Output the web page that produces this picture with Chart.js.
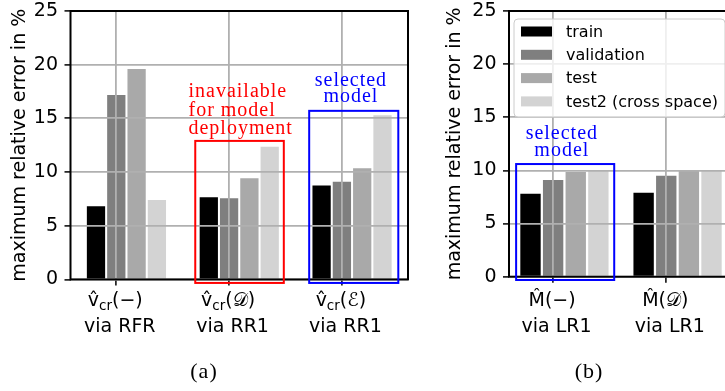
<!DOCTYPE html>
<html>
<head>
<meta charset="utf-8">
<script src="https://cdn.jsdelivr.net/npm/chart.js@4.4.1/dist/chart.umd.min.js"></script>
<style>
  html, body { margin: 0; padding: 0; background: #fff; overflow: hidden; width: 725px; height: 391px; position: relative; }
  canvas { position: absolute; top: 0; }
  #chartA { left: 0; }
  #chartB { left: 420px; }
</style>
</head>
<body>
<canvas id="chartA" width="420" height="391"></canvas>
<canvas id="chartB" width="325" height="391"></canvas>
<script>
// series shared by both panels
const seriesNames = ['train', 'validation', 'test', 'test2 (cross space)']
const seriesColors = ['#000000', '#7f7f7f', '#a9a9a9', '#d3d3d3']
const yTicks = [0, 5, 10, 15, 20, 25]

// panel (a)
const catsA = ['v\u0302_{cr}(\u2212)', 'v\u0302_{cr}(\u{1D49F})', 'v\u0302_{cr}(\u2130)']
const viaA = ['via RFR', 'via RR1', 'via RR1']
const trainA = [6.82, 7.65, 8.74]
const validationA = [17.18, 7.55, 9.1]
const testA = [19.6, 9.42, 10.35]
const test2A = [7.4, 12.36, 15.3]

// panel (b)
const catsB = ['M\u0302(\u2212)', 'M\u0302(\u{1D49F})']
const viaB = ['via LR1', 'via LR1']
const trainB = [7.8, 7.9]
const validationB = [9.1, 9.5]
const testB = [9.85, 10.0]
const test2B = [9.95, 10.0]

const gridColor = '#b0b0b0'
const sansFont = 'DejaVu Sans'
const serifFont = '"Liberation Serif", "DejaVu Serif", serif'

// an empty first slot so the category tick sits on the validation bar, like the original
function makeDatasets(groups) {
  const sets = [{
    label: '',
    data: groups[0].map((_, i) => ({ x: i, y: null })),
    backgroundColor: 'rgba(0,0,0,0)'
  }]
  groups.forEach((vals, j) => {
    sets.push({
      label: seriesNames[j],
      data: vals.map((v, i) => ({ x: i, y: v })),
      backgroundColor: seriesColors[j]
    })
  })
  return sets
}

// 'v̂_{cr}(−)' -> parts with subscript flags
function parseLabel(s) {
  const out = []
  const re = /_\{([^}]*)\}/g
  let last = 0
  let m
  while ((m = re.exec(s))) {
    if (m.index > last) out.push({ t: s.slice(last, m.index), sub: false })
    out.push({ t: m[1], sub: true })
    last = re.lastIndex
  }
  if (last < s.length) out.push({ t: s.slice(last), sub: false })
  return out
}

function drawRich(ctx, s, cx, baseline) {
  const parts = parseLabel(s)
  const big = '19px "' + sansFont + '"'
  const small = '13.5px "' + sansFont + '"'
  let total = 0
  parts.forEach(p => {
    ctx.font = p.sub ? small : big
    p.w = ctx.measureText(p.t).width
    total += p.w
  })
  let x = cx - total / 2
  ctx.textAlign = 'left'
  parts.forEach(p => {
    ctx.font = p.sub ? small : big
    ctx.fillText(p.t, x, p.sub ? baseline + 4 : baseline)
    x += p.w
  })
}

function extrasPlugin(cfg) {
  return {
    id: 'extras',
    afterDraw(chart) {
      const { ctx, chartArea: a, scales: { x, y } } = chart
      ctx.save()

      // full frame
      ctx.strokeStyle = '#000'
      ctx.lineWidth = 2
      ctx.strokeRect(a.left, a.top, a.right - a.left, a.bottom - a.top)

      // category labels (two lines, with subscript)
      ctx.fillStyle = '#000'
      ctx.textBaseline = 'alphabetic'
      cfg.cats.forEach((c, i) => {
        const px = x.getPixelForValue(i)
        drawRich(ctx, c, px - 1, cfg.labelY)
        ctx.font = '19px "' + sansFont + '"'
        ctx.textAlign = 'center'
        ctx.fillText(cfg.via[i], px + 3.5, cfg.labelY + 26)
      })

      // highlight boxes
      ctx.lineWidth = 2
      cfg.boxes.forEach(b => {
        const l = x.getPixelForValue(b.x0)
        const r = x.getPixelForValue(b.x1)
        const t = y.getPixelForValue(b.y1)
        const bt = y.getPixelForValue(b.y0)
        ctx.strokeStyle = b.color
        ctx.strokeRect(l, t, r - l, bt - t)
      })

      // notes
      ctx.font = '20px ' + serifFont
      ctx.letterSpacing = '1px'
      cfg.notes.forEach(n => {
        ctx.fillStyle = n.color
        ctx.textAlign = n.align
        const px = x.getPixelForValue(n.x)
        const py = y.getPixelForValue(n.y)
        n.lines.forEach((line, k) => ctx.fillText(line, px, py + k * n.step))
      })

      // caption
      ctx.fillStyle = '#000'
      ctx.textAlign = 'center'
      ctx.font = '22px ' + serifFont
      ctx.fillText(cfg.caption, cfg.captionX, 378)
      ctx.letterSpacing = '0px'

      // legend
      if (cfg.legend) {
        const right = a.right - 8
        const top = a.top + 8
        const w = 211
        const h = 98
        const left = right - w
        ctx.beginPath()
        ctx.roundRect(left, top, w, h, 4)
        ctx.fillStyle = 'rgba(255,255,255,0.8)'
        ctx.fill()
        ctx.strokeStyle = '#cccccc'
        ctx.lineWidth = 1
        ctx.stroke()
        ctx.font = '16px "' + sansFont + '"'
        ctx.textAlign = 'left'
        ctx.textBaseline = 'middle'
        seriesNames.forEach((name, j) => {
          const cy = top + 12.5 + j * 23.3
          ctx.fillStyle = seriesColors[j]
          ctx.fillRect(left + 7, cy - 5, 31, 10)
          ctx.fillStyle = '#000'
          ctx.fillText(name, left + 52, cy + 1)
        })
      }
      ctx.restore()
    }
  }
}

function makeChart(id, p) {
  return new Chart(document.getElementById(id), {
    type: 'bar',
    data: { datasets: makeDatasets(p.groups) },
    options: {
      responsive: false,
      animation: false,
      layout: { padding: { top: 11, right: 12, left: 0, bottom: 0 } },
      datasets: { bar: { categoryPercentage: p.catPct, barPercentage: 0.9 } },
      plugins: { legend: { display: false }, tooltip: { enabled: false } },
      scales: {
        x: {
          type: 'linear',
          min: p.xMin,
          max: p.xMax,
          offset: false,
          afterBuildTicks: s => { s.ticks = p.cats.map((_, i) => ({ value: i })) },
          afterFit: s => { s.height = 391 - p.bottom },
          ticks: { display: false },
          grid: { offset: false, color: gridColor, lineWidth: 1.8, z: 1, tickColor: '#000', tickLength: 6, tickWidth: 1.5 },
          border: { display: false }
        },
        y: {
          min: 0,
          max: 25,
          afterBuildTicks: s => { s.ticks = yTicks.map(v => ({ value: v })) },
          afterFit: s => { s.width = p.yWidth; s.paddingTop = 0; s.paddingBottom = 0 },
          ticks: { color: '#000', padding: 6.5, font: { family: sansFont, size: 19 } },
          grid: { color: gridColor, lineWidth: 1.8, z: 1, tickColor: '#000', tickLength: 6, tickWidth: 1.5 },
          border: { display: false },
          title: {
            display: true,
            text: 'maximum relative error in %',
            color: '#000',
            font: { family: sansFont, size: 19 },
            padding: { top: p.titlePad, bottom: 0 }
          }
        }
      }
    },
    plugins: [extrasPlugin(p)]
  })
}

makeChart('chartA', {
  groups: [trainA, validationA, testA, test2A],
  cats: catsA,
  via: viaA,
  catPct: 0.9,
  xMin: -0.406,
  xMax: 2.586,
  bottom: 279.4,
  yWidth: 70.5,
  titlePad: 8.6,
  labelY: 305.5,
  caption: '(a)',
  captionX: 204,
  legend: false,
  boxes: [
    { x0: 0.70, x1: 1.485, y0: -0.33, y1: 12.9, color: '#ff0000' },
    { x0: 1.71, x1: 2.50, y0: -0.33, y1: 15.7, color: '#0000ff' }
  ],
  notes: [
    { lines: ['inavailable', 'for model', 'deployment'], x: 0.64, y: 17.0, step: 18.8, align: 'left', color: '#ff0000' },
    { lines: ['selected', 'model'], x: 2.08, y: 18.0, step: 16, align: 'center', color: '#0000ff' }
  ]
})

makeChart('chartB', {
  groups: [trainB, validationB, testB, test2B],
  cats: catsB,
  via: viaB,
  catPct: 1.0,
  xMin: -0.39,
  xMax: 1.59,
  bottom: 276.7,
  yWidth: 89,
  titlePad: 23.6,
  labelY: 305.5,
  caption: '(b)',
  captionX: 169,
  legend: true,
  boxes: [
    { x0: -0.327, x1: 0.54, y0: -0.31, y1: 10.6, color: '#0000ff' }
  ],
  notes: [
    { lines: ['selected', 'model'], x: 0.077, y: 12.95, step: 17, align: 'center', color: '#0000ff' }
  ]
})
</script>
</body>
</html>
